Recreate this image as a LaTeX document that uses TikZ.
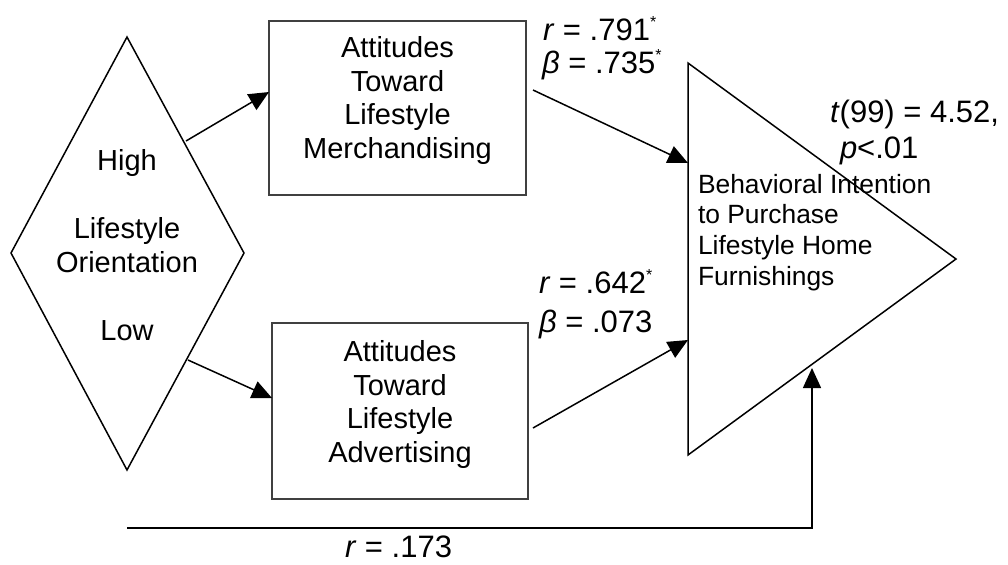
\documentclass[tikz,border=0pt]{standalone}
\usepackage{fontspec}
\setmainfont{Liberation Sans}
\usetikzlibrary{arrows.meta,calc}
\newcommand{\sigstar}{\raisebox{6.5pt}{\fontsize{8}{8}\selectfont *}}
\begin{document}
\begin{tikzpicture}[x=0.5pt,y=-0.5pt,
  every node/.style={inner sep=0pt, outer sep=0pt},
  boxnode/.style={draw=black!75, line width=0.75pt},
  shapeline/.style={draw=black, line width=0.75pt, line join=miter},
  conn/.style={draw=black, line width=0.75pt, -{Triangle[length=10pt,width=9pt]}},
  lbl/.style={font=\fontsize{14.5}{16.75}\selectfont, anchor=base, align=center},
  lblw/.style={font=\fontsize{15.5}{16.75}\selectfont, anchor=base west},
  tritext/.style={font=\fontsize{13.2}{15.3}\selectfont, anchor=base west, align=left}
]
\useasboundingbox (0,0) rectangle (1008,564);

% diamond
\coordinate (dT) at (127,37);
\coordinate (dL) at (11,253);
\coordinate (dR) at (244,253);
\coordinate (dB) at (127,470);
\draw[shapeline] (dT) -- (dR) -- (dB) -- (dL) -- cycle;
\node[lbl] (high) at (127,170) {High};
\node[lbl] (lo1) at (127,238) {Lifestyle};
\node[lbl] (lo2) at (127,272) {Orientation};
\node[lbl] (low) at (127,340) {Low};

% boxes (base anchor = baseline of last line)
\node[boxnode, minimum width=128.5pt, minimum height=87pt] (b1) at (397.5,108) {};
\node[lbl] (b1t) at (397.5,158) {Attitudes\\Toward\\Lifestyle\\Merchandising};
\node[boxnode, minimum width=128pt, minimum height=88pt] (b2) at (400,411) {};
\node[lbl] (b2t) at (400,462) {Attitudes\\Toward\\Lifestyle\\Advertising};

% triangle
\coordinate (tT) at (688,63);
\coordinate (tA) at (956,259);
\coordinate (tB) at (688,455);
\draw[shapeline] (tT) -- (tA) -- (tB) -- cycle;
\node[tritext] (tri) at (698,285) {Behavioral Intention\\to Purchase\\Lifestyle Home\\Furnishings};

% connectors
\coordinate (d1) at (186,141);
\coordinate (d2) at (188,360);
\coordinate (b1o) at (533,90);
\coordinate (b2o) at (533,428);
\coordinate (tin1) at (688,163);
\coordinate (tin2) at (688,340);
\coordinate (bl) at (127,528);
\coordinate (tin3) at (812,368);
\draw[conn] (d1) -- ($(b1.west)+(0,-16)$);
\draw[conn] (d2) -- ($(b2.west)+(0,-13)$);
\draw[conn] (b1o) -- (tin1);
\draw[conn] (b2o) -- (tin2);
\draw[conn] (bl) -| (tin3);

% labels
\node[lblw] (r1) at (543,40) {\textit{r} = .791\sigstar};
\node[lblw] (be1) at (542,73) {\textit{β} = .735\sigstar};
\node[lblw] (r2) at (539,293) {\textit{r} = .642\sigstar};
\node[lblw] (be2) at (539,332) {\textit{β} = .073};
\node[lblw] (tst) at (830,122) {\textit{t}(99) = 4.52,};
\node[lblw] (pv) at (840,158) {\textit{p}<.01};
\node[lblw] (r3) at (345,557) {\textit{r} = .173};
\end{tikzpicture}
\end{document}
